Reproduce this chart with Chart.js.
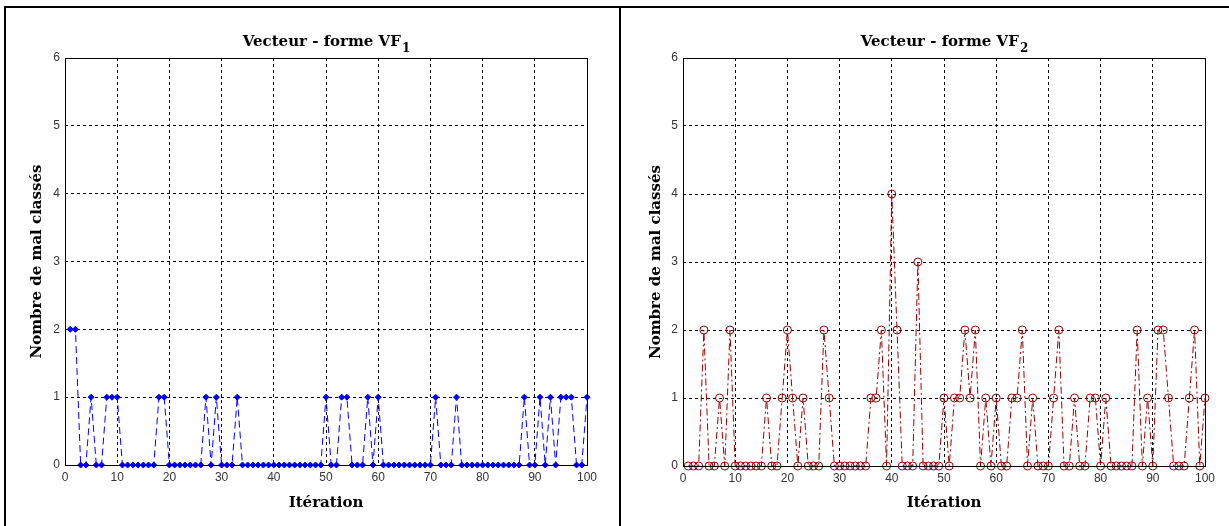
<!DOCTYPE html>
<html>
<head>
<meta charset="utf-8">
<script src="https://cdn.jsdelivr.net/npm/chart.js@4/dist/chart.umd.min.js"></script>
<style>
  html, body { margin: 0; padding: 0; background: #fff; }
  body { width: 1229px; height: 526px; position: relative; overflow: hidden; }
  .frame { position: absolute; background: #000; }
  .wrap { position: absolute; }
</style>
</head>
<body>
<div class="frame" style="left:4px;top:6px;width:1225px;height:2px"></div>
<div class="frame" style="left:4px;top:6px;width:2px;height:520px"></div>
<div class="frame" style="left:619px;top:6px;width:2px;height:520px"></div>
<div class="wrap" style="left:6px;top:8px"><canvas id="vf1Chart" width="612" height="518"></canvas></div>
<div class="wrap" style="left:621px;top:8px"><canvas id="vf2Chart" width="608" height="518"></canvas></div>
<script>
  "use strict";

  // ====
  // Data
  // ====
  const ITERATIONS = [
    1, 2, 3, 4, 5, 6, 7, 8, 9, 10,
    11, 12, 13, 14, 15, 16, 17, 18, 19, 20,
    21, 22, 23, 24, 25, 26, 27, 28, 29, 30,
    31, 32, 33, 34, 35, 36, 37, 38, 39, 40,
    41, 42, 43, 44, 45, 46, 47, 48, 49, 50,
    51, 52, 53, 54, 55, 56, 57, 58, 59, 60,
    61, 62, 63, 64, 65, 66, 67, 68, 69, 70,
    71, 72, 73, 74, 75, 76, 77, 78, 79, 80,
    81, 82, 83, 84, 85, 86, 87, 88, 89, 90,
    91, 92, 93, 94, 95, 96, 97, 98, 99, 100,
  ];

  // misclassified count, shape vector VF1
  const VF1_ERRORS = [
    2, 2, 0, 0, 1, 0, 0, 1, 1, 1,
    0, 0, 0, 0, 0, 0, 0, 1, 1, 0,
    0, 0, 0, 0, 0, 0, 1, 0, 1, 0,
    0, 0, 1, 0, 0, 0, 0, 0, 0, 0,
    0, 0, 0, 0, 0, 0, 0, 0, 0, 1,
    0, 0, 1, 1, 0, 0, 0, 1, 0, 1,
    0, 0, 0, 0, 0, 0, 0, 0, 0, 0,
    1, 0, 0, 0, 1, 0, 0, 0, 0, 0,
    0, 0, 0, 0, 0, 0, 0, 1, 0, 0,
    1, 0, 1, 0, 1, 1, 1, 0, 0, 1,
  ];

  // misclassified count, shape vector VF2
  const VF2_ERRORS = [
    0, 0, 0, 2, 0, 0, 1, 0, 2, 0,
    0, 0, 0, 0, 0, 1, 0, 0, 1, 2,
    1, 0, 1, 0, 0, 0, 2, 1, 0, 0,
    0, 0, 0, 0, 0, 1, 1, 2, 0, 4,
    2, 0, 0, 0, 3, 0, 0, 0, 0, 1,
    0, 1, 1, 2, 1, 2, 0, 1, 0, 1,
    0, 0, 1, 1, 2, 0, 1, 0, 0, 0,
    1, 2, 0, 0, 1, 0, 0, 1, 1, 0,
    1, 0, 0, 0, 0, 0, 2, 0, 1, 0,
    2, 2, 1, 0, 0, 0, 1, 2, 0, 1,
  ];

  const X_TICKS = [0, 10, 20, 30, 40, 50, 60, 70, 80, 90, 100];
  const Y_TICKS = [0, 1, 2, 3, 4, 5, 6];

  const X_LABEL = "Itération";
  const Y_LABEL = "Nombre de mal classés";
  const TITLE_MAIN = "Vecteur - forme VF";

  // ============
  // Chart helper
  // ============
  const LABEL_FONT = { family: "'DejaVu Serif', serif", weight: "bold", size: 15 };
  const TICK_FONT = { family: "'Liberation Sans', Arial, sans-serif", size: 12 };
  const TITLE_FONT = "bold 15px 'DejaVu Serif', serif";
  const SUB_FONT = "bold 12px 'DejaVu Serif', serif";

  // title with a real subscript, drawn above the plot box
  const subTitlePlugin = {
    id: "subTitle",
    afterDraw(chart, args, opts) {
      const { ctx, chartArea } = chart;
      ctx.save();
      ctx.fillStyle = "#000";
      ctx.textBaseline = "alphabetic";
      ctx.font = TITLE_FONT;
      const mainW = ctx.measureText(opts.main).width;
      ctx.font = SUB_FONT;
      const subW = ctx.measureText(opts.sub).width;
      const x0 = (chartArea.left + chartArea.right) / 2 - (mainW + subW) / 2;
      const y0 = chartArea.top - 12;
      ctx.font = TITLE_FONT;
      ctx.fillText(opts.main, x0, y0);
      ctx.font = SUB_FONT;
      ctx.fillText(opts.sub, x0 + mainW + 1, y0 + 6);
      ctx.restore();
    },
  };

  // closed axes box, like the original plot
  const boxPlugin = {
    id: "box",
    afterDatasetsDraw(chart) {
      const { ctx, chartArea } = chart;
      ctx.save();
      ctx.strokeStyle = "#000";
      ctx.lineWidth = 1;
      ctx.strokeRect(
        Math.round(chartArea.left) + 0.5,
        Math.round(chartArea.top) + 0.5,
        Math.round(chartArea.right - chartArea.left),
        Math.round(chartArea.bottom - chartArea.top),
      );
      ctx.restore();
    },
  };

  const drawErrorChart = (canvasId, values, sub, style, box) => {
    const ctx = document.getElementById(canvasId);
    const points = ITERATIONS.map((it, i) => ({ x: it, y: values[i] }));

    new Chart(ctx, {
      type: "line",
      data: {
        datasets: [
          {
            data: points,
            borderColor: style.color,
            backgroundColor: style.fill,
            borderWidth: 1,
            borderDash: style.dash,
            pointStyle: style.marker,
            pointRadius: style.radius,
            pointBorderWidth: 1,
            pointBorderColor: style.color,
            pointBackgroundColor: style.fill,
            tension: 0,
            clip: false,
          },
        ],
      },
      options: {
        responsive: false,
        animation: false,
        events: [],
        layout: {
          padding: { left: 0, top: box.top, right: box.right, bottom: 0 },
        },
        plugins: {
          legend: { display: false },
          tooltip: { enabled: false },
          title: { display: false },
          subTitle: { main: TITLE_MAIN, sub: sub },
        },
        scales: {
          x: {
            type: "linear",
            min: X_TICKS[0],
            max: X_TICKS[X_TICKS.length - 1],
            afterBuildTicks: (scale) => {
              scale.ticks = X_TICKS.map((v) => ({ value: v }));
            },
            afterFit: (scale) => {
              scale.height = box.xHeight;
            },
            ticks: { color: "#333", font: TICK_FONT, padding: 5, maxRotation: 0, autoSkip: false },
            grid: { color: "#000", lineWidth: 1, drawTicks: false },
            border: { display: false, dash: [3, 3] },
            title: {
              display: true,
              text: X_LABEL,
              color: "#000",
              font: LABEL_FONT,
              padding: { top: 0, bottom: 14 },
            },
          },
          y: {
            type: "linear",
            min: Y_TICKS[0],
            max: Y_TICKS[Y_TICKS.length - 1],
            afterBuildTicks: (scale) => {
              scale.ticks = Y_TICKS.map((v) => ({ value: v }));
            },
            afterFit: (scale) => {
              scale.width = box.yWidth;
            },
            ticks: { color: "#333", font: TICK_FONT, padding: 5 },
            grid: { color: "#000", lineWidth: 1, drawTicks: false },
            border: { display: false, dash: [3, 3] },
            title: {
              display: true,
              text: Y_LABEL,
              color: "#000",
              font: LABEL_FONT,
              padding: { top: box.yTitlePad, bottom: 0 },
            },
          },
        },
      },
      plugins: [subTitlePlugin, boxPlugin],
    });
  };

  drawErrorChart(
    "vf1Chart",
    VF1_ERRORS,
    "1",
    { color: "#0000ff", fill: "#0000ff", dash: [7, 4], marker: "rectRot", radius: 3 },
    { top: 50, right: 31, xHeight: 61, yWidth: 59, yTitlePad: 22 },
  );

  drawErrorChart(
    "vf2Chart",
    VF2_ERRORS,
    "2",
    { color: "#990000", fill: "rgba(0,0,0,0)", dash: [7, 3, 2, 3], marker: "circle", radius: 4 },
    { top: 50, right: 24, xHeight: 60, yWidth: 62, yTitlePad: 26 },
  );
</script>
</body>
</html>
